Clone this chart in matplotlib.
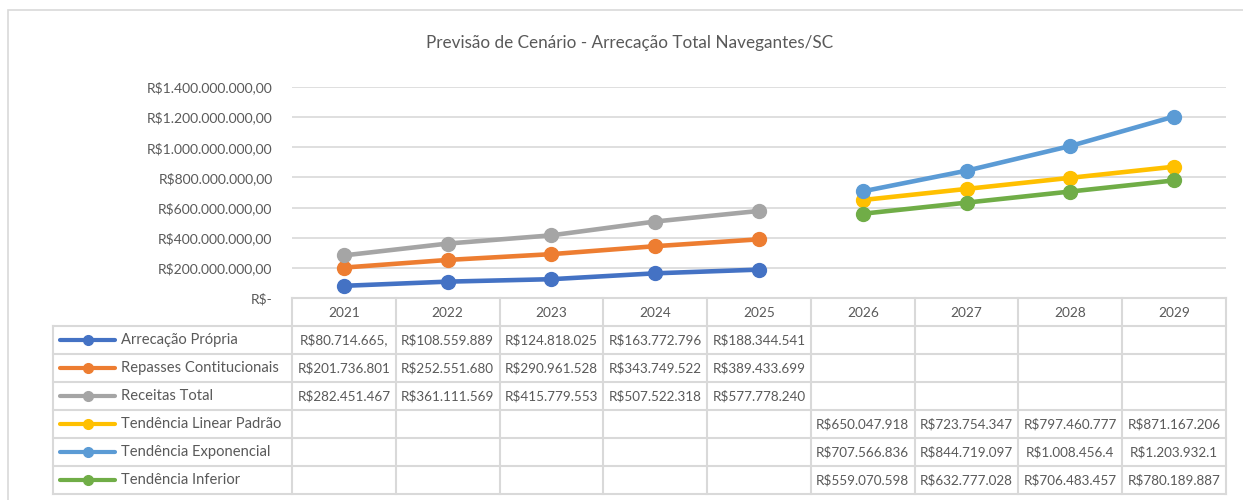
import matplotlib.pyplot as plt
import matplotlib.patches as mpatches
import numpy as np

plt.rcParams['font.family'] = ['Lato', 'DejaVu Sans']

anos = ["2021", "2022", "2023", "2024", "2025", "2026", "2027", "2028", "2029"]
nan = np.nan

series_nomes = ["Arrecação Própria", "Repasses Contitucionais", "Receitas Total",
                "Tendência Linear Padrão", "Tendência Exponencial", "Tendência Inferior"]
arrecacao  = [80714665, 108559889, 124818025, 163772796, 188344541, nan, nan, nan, nan]
repasses   = [201736801, 252551680, 290961528, 343749522, 389433699, nan, nan, nan, nan]
receitas   = [282451467, 361111569, 415779553, 507522318, 577778240, nan, nan, nan, nan]
linear     = [nan, nan, nan, nan, nan, 650047918, 723754347, 797460777, 871167206]
exponencial = [nan, nan, nan, nan, nan, 707566836, 844719097, 1008456400, 1203932100]
inferior   = [nan, nan, nan, nan, nan, 559070598, 632777028, 706483457, 780189887]

series = [arrecacao, repasses, receitas, linear, exponencial, inferior]
cores = ["#4472C4", "#ED7D31", "#A5A5A5", "#FFC000", "#5B9BD5", "#70AD47"]

yticks = [0, 200e6, 400e6, 600e6, 800e6, 1000e6, 1200e6, 1400e6]

txt = "#595959"
grade = "#D9D9D9"
W, H = 1243, 500


def fmt_eixo(v):
    if v == 0:
        return "R$-"
    s = f"{v:,.2f}".replace(",", "X").replace(".", ",").replace("X", ".")
    return "R$" + s


def fmt_celula(v):
    if np.isnan(v):
        return ""
    s = f"{v:,.2f}".replace(",", "X").replace(".", ",").replace("X", ".")
    return ("R$" + s)[:13]  # excel corta o texto na celula


fig = plt.figure(figsize=(W / 100, H / 100), dpi=100)

# moldura do grafico
fig.patches.append(mpatches.Rectangle((8 / W, -0.1), 1.2, 1 - 10 / H + 0.1,
                                      transform=fig.transFigure, fill=False,
                                      edgecolor=grade, lw=1.2))

fig.text(630 / W, 1 - 43 / H, "Previsão de Cenário - Arrecação Total Navegantes/SC",
         ha="center", va="center", fontsize=12.3, color=txt)

# area do grafico
ax = fig.add_axes([292 / W, 1 - 298 / H, (1226 - 292) / W, (298 - 87) / H])
x = np.arange(len(anos))
for vals, c in zip(series, cores):
    ax.plot(x, vals, color=c, lw=3.3, marker="o", markersize=10,
            solid_capstyle="round", clip_on=False, zorder=3)

ax.set_xlim(-0.5, 8.5)
ax.set_ylim(0, 1400e6)
ax.set_yticks(yticks)
ax.set_yticklabels([fmt_eixo(v) for v in yticks], fontsize=10, color=txt)
ax.tick_params(axis="y", length=0, pad=14)
ax.set_xticks([])
ax.grid(axis="y", color=grade, lw=1.2)
ax.set_axisbelow(True)
for s in ax.spines.values():
    s.set_visible(False)

# tabela de dados
tax = fig.add_axes([53 / W, 1 - 494 / H, (1226 - 53) / W, (494 - 298) / H])
leg_w = (292 - 53) / ((1226 - 292) / 9)
tax.set_xlim(-leg_w, 9)
tax.set_ylim(7, 0)
tax.axis("off")

lk = dict(color=grade, lw=1.5, clip_on=False, solid_capstyle="projecting")
tax.plot([0, 9], [0, 0], **lk)
for r in range(1, 8):
    tax.plot([-leg_w, 9], [r, r], **lk)
tax.plot([-leg_w, -leg_w], [1, 7], **lk)
for c in range(10):
    tax.plot([c, c], [0, 7], **lk)

for i, a in enumerate(anos):
    tax.text(i + 0.5, 0.55, a, ha="center", va="center", fontsize=9.8, color=txt)

for r, (nome, vals, c) in enumerate(zip(series_nomes, series, cores)):
    yy = r + 1.5
    tax.plot([-leg_w + 0.07, -leg_w + 0.6], [yy, yy], color=c, lw=3,
             solid_capstyle="round", clip_on=False)
    tax.plot([-leg_w + 0.335], [yy], color=c, marker="o", markersize=7, clip_on=False)
    tax.text(-leg_w + 0.66, yy, nome, ha="left", va="center", fontsize=10.6, color=txt)
    for i, v in enumerate(vals):
        tax.text(i + 0.5, yy, fmt_celula(v), ha="center", va="center",
                 fontsize=9.7, color=txt)

fig.savefig("out.png", dpi=100)
